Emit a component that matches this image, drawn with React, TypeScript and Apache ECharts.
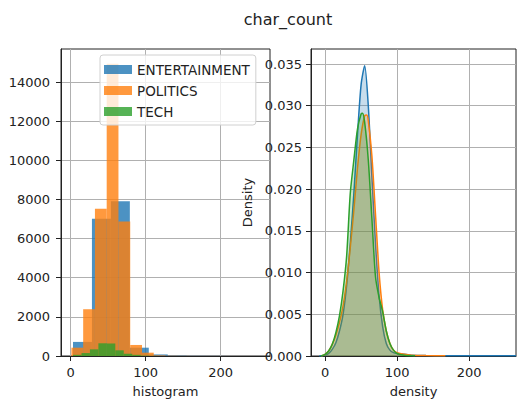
import React, { useEffect, useRef } from 'react';
import * as echarts from 'echarts';

const seriesNames = ['ENTERTAINMENT', 'POLITICS', 'TECH'];
const colors = ['#1f77b4', '#ff7f0e', '#2ca02c'];

// Histogram bin edges and counts
const entEdges = [3, 28.3, 53.6, 78.9, 104.2, 129.5, 154.8, 180.1, 205.4, 230.7, 256];
const entCounts = [720, 7010, 7910, 425, 80, 15, 5, 3, 1, 1];
const polEdges = [0.9, 16.6, 32.3, 48.0, 63.7, 79.4, 95.1, 110.8, 126.5, 142.2, 157.9];
const polCounts = [425, 2390, 7520, 14940, 6880, 564, 170, 30, 8, 3];
const techEdges = [3, 14.3, 25.6, 36.9, 48.2, 59.5, 70.8, 82.1, 93.4, 104.7, 116];
const techCounts = [60, 150, 340, 650, 640, 290, 110, 60, 20, 5];

// Density curves (x positions and density values)
const entDensX = [-8, -5, 0, 5, 10, 15, 20, 25, 30, 35, 40, 45, 50, 55, 60, 65, 70, 75, 80, 85, 90, 95, 100, 110, 120, 140, 170, 200, 230, 265];
const entDensY = [0, 0.00002, 0.0001, 0.0003, 0.0008, 0.0016, 0.003, 0.005, 0.0085, 0.0135, 0.0195, 0.0265, 0.0325, 0.0348, 0.0300, 0.0215, 0.0135, 0.0072, 0.0035, 0.0015, 0.0007, 0.0004, 0.0003, 0.0002, 0.0001, 0.00005, 0.00003, 0.00003, 0.00003, 0.00002];
const polDensX = [-5, 0, 5, 10, 15, 20, 25, 30, 35, 40, 45, 50, 55, 58, 60, 65, 70, 75, 80, 85, 90, 95, 100, 110, 120, 140, 167];
const polDensY = [0, 0.0002, 0.0006, 0.0014, 0.0025, 0.004, 0.006, 0.009, 0.013, 0.0175, 0.0225, 0.0265, 0.0288, 0.0289, 0.0282, 0.024, 0.017, 0.01, 0.0055, 0.003, 0.0015, 0.0007, 0.0004, 0.0002, 0.0001, 0.00005, 0.00002];
const techDensX = [-6, 0, 5, 10, 15, 20, 25, 30, 35, 40, 45, 50, 52, 55, 60, 65, 70, 75, 80, 85, 90, 95, 100, 110, 125];
const techDensY = [0, 0.0002, 0.0006, 0.0014, 0.0028, 0.0048, 0.0078, 0.012, 0.0195, 0.0235, 0.0272, 0.029, 0.0291, 0.028, 0.0235, 0.0165, 0.0095, 0.007, 0.0053, 0.003, 0.0015, 0.0007, 0.0003, 0.0001, 0.00003];

const xTicks = [0, 100, 200];
const histYTicks = [0, 2000, 4000, 6000, 8000, 10000, 12000, 14000];
const densYTicks = [0, 0.005, 0.01, 0.015, 0.02, 0.025, 0.03, 0.035];

const FONT = 'DejaVu Sans';
const TXT = '#222';

function binsToData(edges: number[], counts: number[]) {
  return counts.map((c, i) => [edges[i], edges[i + 1], c]);
}
function pairs(xs: number[], ys: number[]) {
  return xs.map((x, i) => [x, ys[i]]);
}

function axisCommon(ticks: number[], margin: number, fmt?: (v: number) => string) {
  return {
    axisLine: { show: true, onZero: false, lineStyle: { color: TXT, width: 1 } },
    axisTick: { show: true, inside: false, length: 5, customValues: ticks, lineStyle: { color: TXT } },
    axisLabel: {
      customValues: ticks,
      fontFamily: FONT,
      fontSize: 13,
      color: TXT,
      margin,
      formatter: fmt ? (v: number) => fmt(v) : (v: number) => String(v),
    },
    splitLine: { show: true, lineStyle: { color: '#b0b0b0', width: 1 } },
    nameTextStyle: { fontFamily: FONT, fontSize: 13, color: TXT },
  };
}

export default function App() {
  const ref = useRef<HTMLDivElement>(null);
  useEffect(() => {
    if (!ref.current) return;
    const chart = echarts.init(ref.current, undefined, { renderer: 'svg' });
    const histData = [
      binsToData(entEdges, entCounts),
      binsToData(polEdges, polCounts),
      binsToData(techEdges, techCounts),
    ];
    const densData = [
      pairs(entDensX, entDensY),
      pairs(polDensX, polDensY),
      pairs(techDensX, techDensY),
    ];
    const histSeries = seriesNames.map((name, k) => ({
      type: 'custom',
      name,
      xAxisIndex: 0,
      yAxisIndex: 0,
      itemStyle: { color: colors[k] },
      encode: { x: [0, 1], y: 2 },
      z: 2 + k,
      data: histData[k],
      renderItem: (params: any, api: any) => {
        const p0 = api.coord([api.value(0), api.value(2)]);
        const p1 = api.coord([api.value(1), 0]);
        return {
          type: 'rect',
          shape: { x: p0[0], y: p0[1], width: p1[0] - p0[0], height: p1[1] - p0[1] },
          style: { fill: colors[k], opacity: 0.8 },
        };
      },
    }));
    const densSeries = seriesNames.map((name, k) => ({
      type: 'line',
      name,
      xAxisIndex: 1,
      yAxisIndex: 1,
      data: densData[k],
      smooth: 0.25,
      showSymbol: false,
      symbol: 'none',
      z: 2 + k,
      lineStyle: { color: colors[k], width: 1.5 },
      itemStyle: { color: colors[k] },
      areaStyle: { color: colors[k], opacity: 0.25 },
    }));

    chart.setOption({
      animation: false,
      backgroundColor: '#ffffff',
      title: {
        text: 'char_count',
        left: 283,
        top: 6,
        textAlign: 'center',
        textStyle: { fontFamily: FONT, fontSize: 16, fontWeight: 'normal', color: TXT },
      },
      legend: {
        orient: 'vertical',
        left: 100,
        top: 55,
        padding: [7, 6, 6, 4],
        itemWidth: 28,
        itemHeight: 9,
        itemGap: 6,
        itemTextGap: 12,
        backgroundColor: 'rgba(255,255,255,0.8)',
        borderColor: '#d0d0d0',
        borderWidth: 1,
        borderRadius: 3,
        selectedMode: false,
        textStyle: { fontFamily: FONT, fontSize: 13.5, color: TXT, lineHeight: 15 },
        data: seriesNames.map((name, k) => ({
          name,
          icon: 'rect',
          itemStyle: { color: colors[k], opacity: 0.8 },
        })),
      },
      grid: [
        { left: 61, top: 49, width: 209, height: 309, show: true, borderColor: TXT, borderWidth: 1, backgroundColor: 'transparent' },
        { left: 311, top: 49, width: 205, height: 309, show: true, borderColor: TXT, borderWidth: 1, backgroundColor: 'transparent' },
      ],
      xAxis: [
        {
          type: 'value', gridIndex: 0, min: -13, max: 266,
          name: 'histogram', nameLocation: 'middle', nameGap: 29,
          ...axisCommon(xTicks, 10),
        },
        {
          type: 'value', gridIndex: 1, min: -19.5, max: 265,
          name: 'density', nameLocation: 'middle', nameGap: 29,
          ...axisCommon(xTicks, 10),
        },
      ],
      yAxis: [
        {
          type: 'value', gridIndex: 0, min: 0, max: 15690,
          ...axisCommon(histYTicks, 11),
        },
        {
          type: 'value', gridIndex: 1, min: 0, max: 0.0368,
          name: 'Density', nameLocation: 'middle', nameGap: 57, nameRotate: 90,
          ...axisCommon(densYTicks, 9, (v) => v.toFixed(3)),
        },
      ],
      series: [...histSeries, ...densSeries],
    });
    return () => chart.dispose();
  }, []);
  return (
    <div
      ref={ref}
      style={{ position: 'absolute', left: 0, top: 0, width: 517, height: 403, background: '#fff' }}
    />
  );
}
